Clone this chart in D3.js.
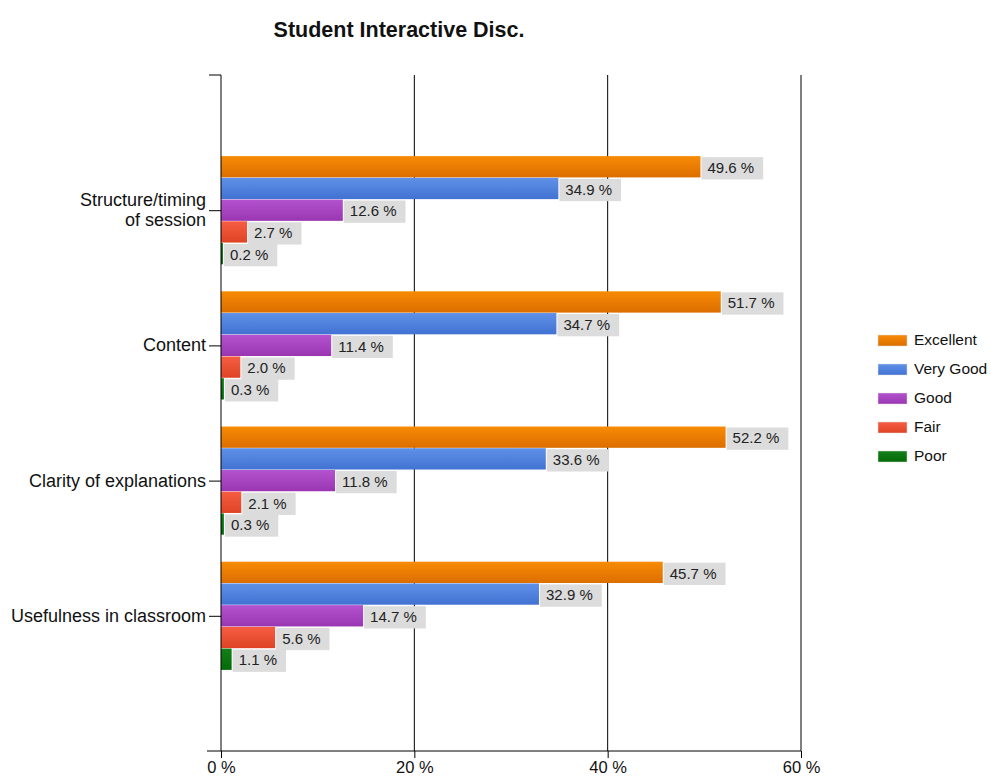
<!DOCTYPE html>
<html><head><meta charset="utf-8">
<script src="https://cdn.jsdelivr.net/npm/d3@7"></script>
<style>body{margin:0;background:#fff}svg{display:block;font-family:"Liberation Sans",Arial,sans-serif}</style>
</head><body>
<svg id="c" width="991" height="778"></svg>
<script>
const categories = ["Structure/timing\nof session", "Content", "Clarity of explanations", "Usefulness in classroom"];
const seriesNames = ["Excellent", "Very Good", "Good", "Fair", "Poor"];
const excellent = [49.6, 51.7, 52.2, 45.7];
const veryGood = [34.9, 34.7, 33.6, 32.9];
const good = [12.6, 11.4, 11.8, 14.7];
const fair = [2.7, 2.0, 2.1, 5.6];
const poor = [0.2, 0.3, 0.3, 1.1];
const xTicks = [0, 20, 40, 60];
const colorsTop = ["#f78b05", "#5f91e8", "#b453cf", "#f65d43", "#14801a"];
const colorsBot = ["#dc6e00", "#4272d2", "#9a36b2", "#de4424", "#036a08"];

(function () {
const series = [excellent, veryGood, good, fair, poor];
const svg = d3.select("#c");
const pL = 221, pR = 801, pT = 75, pB = 751;

const x = d3.scaleLinear().domain([0, 60]).range([pL, pR]);
const yPt = d3.scalePoint().domain(categories).range([pT, pB]).padding(1);
const groupH = yPt.step() * 0.8;
const yIn = d3.scaleBand().domain(seriesNames).range([-groupH / 2, groupH / 2]).paddingInner(0.02);

const defs = svg.append("defs");
seriesNames.forEach((s, i) => {
  const g = defs.append("linearGradient").attr("id", "g" + i).attr("x1", 0).attr("y1", 0).attr("x2", 0).attr("y2", 1);
  g.append("stop").attr("offset", "0%").attr("stop-color", colorsTop[i]);
  g.append("stop").attr("offset", "100%").attr("stop-color", colorsBot[i]);
});

svg.append("text").attr("x", 399).attr("y", 37).attr("text-anchor", "middle")
  .attr("font-size", 21.5).attr("font-weight", "bold").attr("fill", "#111").text("Student Interactive Disc.");

svg.append("g").selectAll("line").data(xTicks.slice(1)).join("line")
  .attr("x1", d => x(d)).attr("x2", d => x(d)).attr("y1", pT).attr("y2", pB)
  .attr("stroke", "#000").attr("stroke-width", 1);

const groups = svg.append("g").selectAll("g").data(categories).join("g")
  .attr("transform", c => `translate(0,${yPt(c)})`);
groups.each(function (c, ci) {
  const g = d3.select(this);
  seriesNames.forEach((s, si) => {
    const v = series[si][ci];
    const y0 = yIn(s);
    const h = yIn.bandwidth();
    g.append("rect").attr("x", x(0)).attr("y", y0).attr("width", x(v) - x(0)).attr("height", h)
      .attr("fill", `url(#g${si})`);
    const lbl = v.toFixed(1) + " %";
    const t = g.append("text").attr("x", x(v) + 7).attr("y", y0 + h / 2 + 1).attr("dy", "0.35em")
      .attr("font-size", 15).attr("fill", "#222").text(lbl);
    const w = t.node().getComputedTextLength();
    g.insert("rect", function () { return t.node(); }).attr("x", x(v) + 1).attr("y", y0 + 1).attr("width", w + 15).attr("height", h + 1)
      .attr("fill", "#dcdcdc");
  });
});

const yAxis = svg.append("g").attr("transform", `translate(${pL},0)`)
  .call(d3.axisLeft(yPt).tickSize(12).tickFormat(""));
yAxis.select(".domain").attr("d", `M-12,${pT}H0V${pB}`).attr("stroke", "#000");
yAxis.selectAll(".tick line").attr("stroke", "#000");
categories.forEach(c => {
  const lines = c.split("\n");
  const t = svg.append("text").attr("text-anchor", "end").attr("font-size", 18).attr("fill", "#111");
  lines.forEach((ln, i) => {
    t.append("tspan").attr("x", 206).attr("y", yPt(c) + 6 + (i - (lines.length - 1) / 2) * 20).text(ln);
  });
});

const xAxis = svg.append("g").attr("transform", `translate(0,${pB})`)
  .call(d3.axisBottom(x).tickValues(xTicks).tickSize(7).tickPadding(3).tickFormat(d => d + " %"));
xAxis.select(".domain").attr("d", `M${pL - 14},0H${pR}`).attr("stroke", "#000");
xAxis.selectAll(".tick line").attr("stroke", "#000");
xAxis.selectAll("text").attr("font-size", 16.5).attr("fill", "#111").attr("font-family", "Liberation Sans, Arial, sans-serif");

const lg = svg.append("g").attr("transform", "translate(878,340)");
seriesNames.forEach((s, i) => {
  lg.append("rect").attr("x", 0).attr("y", i * 29 - 5).attr("width", 29).attr("height", 11)
    .attr("fill", `url(#g${i})`).attr("stroke", "#ddd").attr("stroke-width", 0.5);
  lg.append("text").attr("x", 36).attr("y", i * 29).attr("dy", "0.35em").attr("font-size", 15.5).attr("fill", "#111").text(s);
});
})();
</script>
</body></html>
